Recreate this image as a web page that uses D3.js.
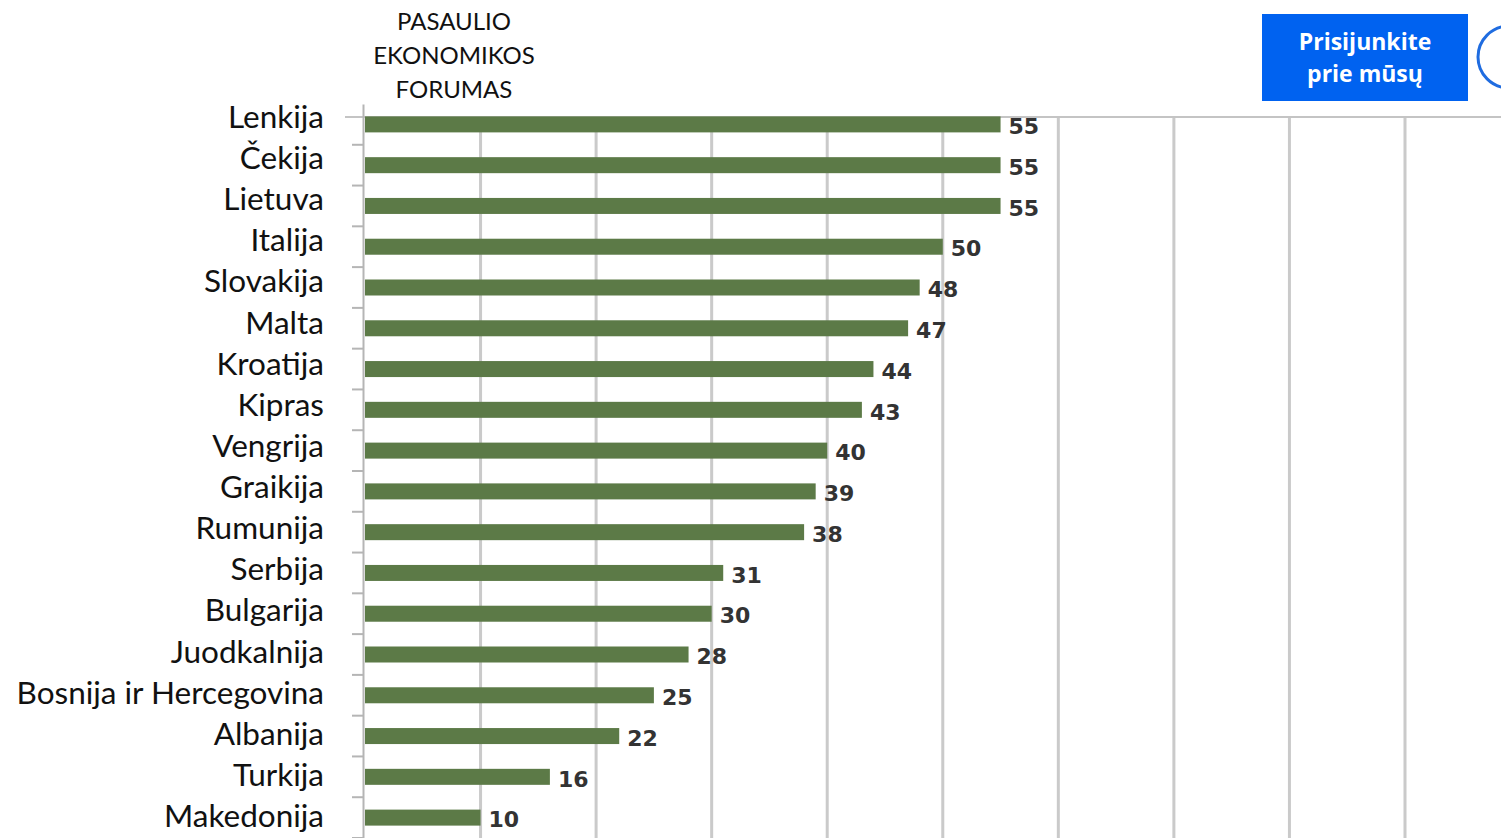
<!DOCTYPE html>
<html>
<head>
<meta charset="utf-8">
<script src="https://cdn.jsdelivr.net/npm/d3@7"></script>
<style>
  body { margin: 0; background: #fff; }
  svg { display: block; }
</style>
</head>
<body>
<svg width="1501" height="838"></svg>
<script>
// data
const countries = ["Lenkija", "Čekija", "Lietuva", "Italija", "Slovakija", "Malta", "Kroatija", "Kipras",
  "Vengrija", "Graikija", "Rumunija", "Serbija", "Bulgarija", "Juodkalnija", "Bosnija ir Hercegovina",
  "Albanija", "Turkija", "Makedonija"]
const scores = [55, 55, 55, 50, 48, 47, 44, 43, 40, 39, 38, 31, 30, 28, 25, 22, 16, 10]
const gridTicks = [10, 20, 30, 40, 50, 60, 70, 80, 90]
const headerLines = ["PASAULIO", "EKONOMIKOS", "FORUMAS"]
const buttonLines = ["Prisijunkite", "prie mūsų"]

const svg = d3.select("svg")
const rows = countries.map((c, i) => ({country: c, value: scores[i]}))

let x = d3.scaleLinear().domain([0, 90]).range([365, 1405])
let y = d3.scaleBand().domain(countries).range([104, 838])
let yLabel = d3.scalePoint().domain(countries).range([117, 816])

// vertical gridlines
svg.append("g")
  .selectAll("line")
  .data(gridTicks)
  .join("line")
  .attr("x1", d => x(d)).attr("x2", d => x(d))
  .attr("y1", 117).attr("y2", 838)
  .attr("stroke", "#cacaca").attr("stroke-width", 3)

// top rule
svg.append("line")
  .attr("x1", 345).attr("x2", 1501).attr("y1", 117).attr("y2", 117)
  .attr("stroke", "#c4c4c4").attr("stroke-width", 2)

// left axis, ticks sit between the bars
svg.append("g")
  .attr("transform", `translate(${x(0) - 2},0)`)
  .call(d3.axisLeft(y).tickSize(0).tickFormat(""))
  .call(g => g.select(".domain").attr("stroke", "#b5b5b5").attr("stroke-width", 2))
svg.append("g")
  .selectAll("line")
  .data(countries)
  .join("line")
  .attr("x1", 352).attr("x2", x(0) - 2)
  .attr("y1", d => y(d) + y.step()).attr("y2", d => y(d) + y.step())
  .attr("stroke", "#b5b5b5").attr("stroke-width", 2)

// bars
const barH = 16
svg.append("g")
  .selectAll("rect")
  .data(rows)
  .join("rect")
  .attr("x", x(0))
  .attr("y", d => y(d.country) + y.bandwidth() / 2 - barH / 2)
  .attr("width", d => x(d.value) - x(0))
  .attr("height", barH)
  .attr("fill", "#5c7a47")

// value labels
svg.append("g")
  .selectAll("text")
  .data(rows)
  .join("text")
  .attr("x", d => x(d.value) + 8)
  .attr("y", d => y(d.country) + y.bandwidth() / 2 + 2)
  .attr("dy", "0.35em")
  .attr("font-family", "DejaVu Sans")
  .attr("font-weight", "bold")
  .attr("font-size", 22)
  .attr("fill", "#333")
  .text(d => d.value)

// category labels
svg.append("g")
  .selectAll("text")
  .data(countries)
  .join("text")
  .attr("x", 324)
  .attr("y", d => yLabel(d))
  .attr("dy", "0.35em")
  .attr("text-anchor", "end")
  .attr("font-family", "Lato")
  .attr("font-size", 31.5)
  .attr("fill", "#111")
  .text(d => d)

// header
svg.append("g")
  .selectAll("text")
  .data(headerLines)
  .join("text")
  .attr("x", 454)
  .attr("y", (d, i) => 22 + i * 34)
  .attr("dy", "0.35em")
  .attr("text-anchor", "middle")
  .attr("font-family", "Lato")
  .attr("font-size", 24)
  .attr("fill", "#111")
  .text(d => d)

// button
svg.append("rect")
  .attr("x", 1262).attr("y", 14).attr("width", 206).attr("height", 87)
  .attr("fill", "#0062f0")
svg.append("g")
  .selectAll("text")
  .data(buttonLines)
  .join("text")
  .attr("x", 1365)
  .attr("y", (d, i) => 42 + i * 32)
  .attr("dy", "0.35em")
  .attr("text-anchor", "middle")
  .attr("font-family", "Open Sans")
  .attr("font-weight", "bold")
  .attr("font-size", 23)
  .attr("fill", "#fff")
  .text(d => d)
svg.append("circle")
  .attr("cx", 1509).attr("cy", 57).attr("r", 31)
  .attr("fill", "none").attr("stroke", "#1f6ce0").attr("stroke-width", 3)
</script>
</body>
</html>
